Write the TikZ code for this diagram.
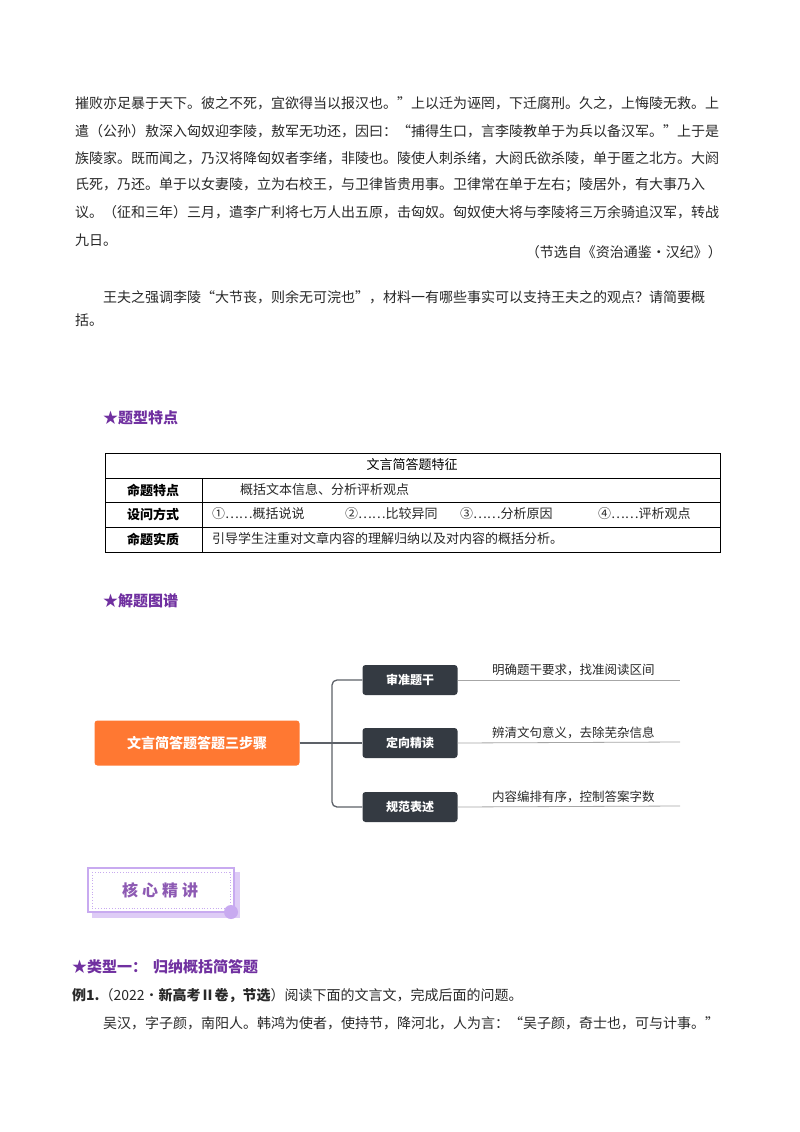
\documentclass[tikz,border=0pt]{standalone}
\usepackage{fontspec}
\setmainfont{Noto Sans CJK SC}
\definecolor{purp}{RGB}{112,48,160}
\definecolor{orng}{RGB}{255,120,50}
\definecolor{dark}{RGB}{52,58,66}
\definecolor{lpurp}{RGB}{200,170,240}
\definecolor{txt}{RGB}{40,40,40}
\tikzset{
  body/.style={anchor=west,inner sep=0,font=\fontsize{14}{15}\selectfont,text=txt},
  head/.style={anchor=west,inner sep=0,font=\fontsize{15}{16}\selectfont\bfseries,text=purp},
  cell/.style={anchor=west,inner sep=0,font=\fontsize{13}{14}\selectfont,text=txt},
  cellb/.style={anchor=center,inner sep=0,font=\fontsize{13}{14}\selectfont\bfseries},
  stepbox/.style={fill=dark,rounded corners=3pt,minimum width=95pt,minimum height=30pt,text=white,font=\fontsize{12}{13}\selectfont\bfseries},
  note/.style={anchor=south west,inner sep=0,font=\fontsize{12.5}{13}\selectfont,text=txt},
  conn/.style={draw=dark!80,line width=1.3pt},
  uline/.style={draw=gray!70,line width=0.8pt}
}
\begin{document}
\begin{tikzpicture}[x=1pt,y=-1pt]
\useasboundingbox[fill=white] (0,0) rectangle (800,1132);
% passage
\node[body] (l1) at (75,103) {摧败亦足暴于天下。彼之不死，宜欲得当以报汉也。”上以迁为诬罔，下迁腐刑。久之，上悔陵无救。上};
\node[body] (l2) at (75,131) {遣（公孙）敖深入匈奴迎李陵，敖军无功还，因曰：“捕得生口，言李陵教单于为兵以备汉军。”上于是};
\node[body] (l3) at (75,158) {族陵家。既而闻之，乃汉将降匈奴者李绪，非陵也。陵使人刺杀绪，大阏氏欲杀陵，单于匿之北方。大阏};
\node[body] (l4) at (75,185) {氏死，乃还。单于以女妻陵，立为右校王，与卫律皆贵用事。卫律常在单于左右；陵居外，有大事乃入};
\node[body] (l5) at (75,212) {议。（征和三年）三月，遣李广利将七万人出五原，击匈奴。匈奴使大将与李陵将三万余骑追汉军，转战};
\node[body] (l6) at (75,240) {九日。};
\node[body,anchor=east] (src) at (722,252) {（节选自《资治通鉴·汉纪》）};
\node[body] (q1) at (103,297) {王夫之强调李陵“大节丧，则余无可浣也”，材料一有哪些事实可以支持王夫之的观点？请简要概};
\node[body] (q2) at (75,320) {括。};
% heading 1
\node[head] (h1) at (103,418) {★题型特点};
% table
\draw[line width=0.8pt] (105,453) rectangle (720,552);
\draw[line width=0.6pt] (105,478) -- (720,478) (105,502) -- (720,502) (105,527) -- (720,527) (202,478) -- (202,552);
\node[cellb,font=\fontsize{13}{14}\selectfont] (th) at (412,465) {文言简答题特征};
\node[cellb] (r1) at (153,490) {命题特点};
\node[cellb] (r2) at (153,514) {设问方式};
\node[cellb] (r3) at (153,539) {命题实质};
\node[cell] (c1) at (240,490) {概括文本信息、分析评析观点};
\node[cell] (c2a) at (212,514) {①……概括说说};
\node[cell] (c2b) at (345,514) {②……比较异同};
\node[cell] (c2c) at (460,514) {③……分析原因};
\node[cell] (c2d) at (598,514) {④……评析观点};
\node[cell] (c3) at (212,539) {引导学生注重对文章内容的理解归纳以及对内容的概括分析。};
% heading 2
\node[head] (h2) at (103,601) {★解题图谱};
% mindmap
\node[fill=orng,rounded corners=3pt,minimum width=205pt,minimum height=45pt,text=white,font=\fontsize{14}{15}\selectfont\bfseries] (root) at (197,743) {文言简答题答题三步骤};
\node[stepbox] (s1) at (410,680) {审准题干};
\node[stepbox] (s2) at (410,743) {定向精读};
\node[stepbox] (s3) at (410,807) {规范表述};
\draw[conn] (root.east) -- (s2.west);
\draw[conn,rounded corners=5pt] (s1.west) -- (332,680) -- (332,807) -- (s3.west);
\coordinate (e1) at (680,680);
\coordinate (e2) at (680,742);
\coordinate (e3) at (680,806);
\draw[uline] (s1.east) -- (e1);
\draw[uline] (s2.east) -- (e2);
\draw[uline] (s3.east) -- (e3);
\node[note] (n1) at (492,676) {明确题干要求，找准阅读区间};
\node[note] (n2) at (492,739) {辨清文句意义，去除芜杂信息};
\node[note] (n3) at (492,803) {内容编排有序，控制答案字数};
% core box
\fill[lpurp!60] (92,872) rectangle (240,918);
\fill[white] (88,868) rectangle (234,912);
\draw[lpurp,line width=1.2pt] (88,868) rectangle (234,912);
\draw[lpurp,dotted,line width=0.8pt] (92,872) rectangle (230,908);
\fill[lpurp] (231,912) circle (7pt);
\node[font=\fontsize{16}{17}\selectfont\bfseries,text=purp!80] (core) at (160,890) {核\hspace{4pt}心\hspace{4pt}精\hspace{4pt}讲};
% heading 3
\node[head] (h3) at (72,967) {★类型一：\hspace{6pt}归纳概括简答题};
\node[body] (ex) at (72,996) {\textbf{例1.}（2022·\textbf{新高考Ⅱ卷，节选}）阅读下面的文言文，完成后面的问题。};
\node[body] (ex2) at (103,1023) {吴汉，字子颜，南阳人。韩鸿为使者，使持节，降河北，人为言：“吴子颜，奇士也，可与计事。”};
\end{tikzpicture}
\end{document}
